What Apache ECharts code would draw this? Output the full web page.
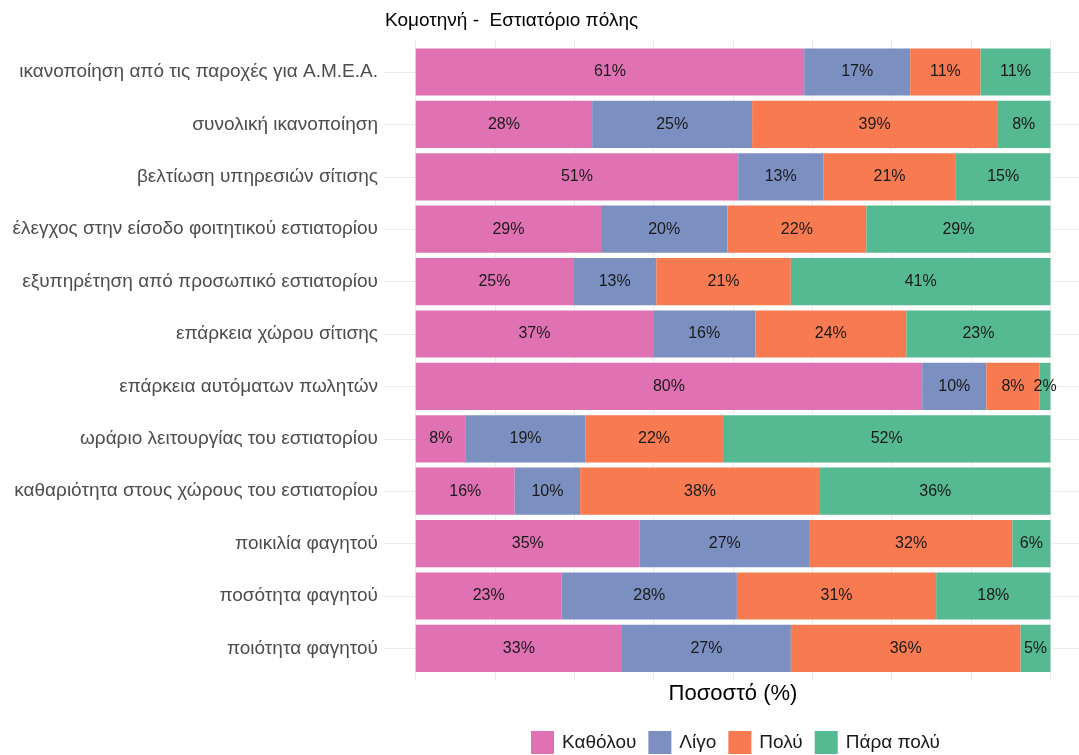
<!DOCTYPE html>
<html>
<head>
<meta charset="utf-8">
<script src="https://cdn.jsdelivr.net/npm/echarts@6/dist/echarts.min.js"></script>
<style>
  html, body { margin: 0; padding: 0; background: #fff; }
  #chart { width: 1079px; height: 755px; }
</style>
</head>
<body>
<div id="chart"></div>
<script>
// κατηγορίες, από πάνω προς τα κάτω
const categories = [
  'ικανοποίηση από τις παροχές για Α.Μ.Ε.Α.',
  'συνολική ικανοποίηση',
  'βελτίωση υπηρεσιών σίτισης',
  'έλεγχος στην είσοδο φοιτητικού εστιατορίου',
  'εξυπηρέτηση από προσωπικό εστιατορίου',
  'επάρκεια χώρου σίτισης',
  'επάρκεια αυτόματων πωλητών',
  'ωράριο λειτουργίας του εστιατορίου',
  'καθαριότητα στους χώρους του εστιατορίου',
  'ποικιλία φαγητού',
  'ποσότητα φαγητού',
  'ποιότητα φαγητού'
]

const seriesNames = ['Καθόλου', 'Λίγο', 'Πολύ', 'Πάρα πολύ']

// ποσοστά (%)
const katholou = [61.2, 27.8, 50.8, 29.2, 24.8, 37.4, 79.8, 7.9, 15.6, 35.3, 23.0, 32.5]
const ligo     = [16.7, 25.2, 13.4, 19.9, 13.1, 16.1, 10.1, 18.8, 10.3, 26.8, 27.6, 26.6]
const poly     = [11.1, 38.6, 20.9, 21.9, 21.2, 23.8, 8.4, 21.7, 37.8, 31.9, 31.4, 36.2]
const paraPoly = [11.0, 8.4, 14.9, 29.0, 40.9, 22.7, 1.7, 51.6, 36.3, 6.0, 18.0, 4.7]

const colors = ['#e072b4', '#7b8fc0', '#f87a50', '#55b991']
const gridColor = '#ebebeb'
const font = 'Liberation Sans'

var chart = echarts.init(document.getElementById('chart'))

var valueLists = [katholou, ligo, poly, paraPoly]
var barSeries = seriesNames.map(function (name, i) {
  return {
    name: name,
    type: 'bar',
    stack: 'total',
    xAxisIndex: 0,
    yAxisIndex: 0,
    barCategoryGap: '10%',
    itemStyle: { color: colors[i] },
    label: {
      show: true,
      position: 'inside',
      color: '#1a1a1a',
      fontSize: 16,
      fontFamily: font,
      formatter: function (p) { return Math.round(p.value) + '%' }
    },
    data: valueLists[i]
  }
})

var hiddenValueAxis = function (idx) {
  return {
    gridIndex: idx,
    type: 'value',
    min: 0,
    max: 100,
    show: false
  }
}

var option = {
  animation: false,
  color: colors,
  textStyle: { fontFamily: font },
  title: {
    text: 'Κομοτηνή -  Εστιατόριο πόλης',
    left: 380,
    top: 6,
    textStyle: { fontSize: 19, fontWeight: 'normal', color: '#000', fontFamily: font }
  },
  legend: {
    data: seriesNames,
    bottom: -4,
    left: 526,
    icon: 'rect',
    itemWidth: 23,
    itemHeight: 23,
    itemGap: 12,
    textStyle: { fontSize: 19, color: '#1a1a1a', fontFamily: font, padding: [0, 0, 0, 3] }
  },
  grid: [
    // ράβδοι (ο άξονας x ξεπερνά λίγο το δεξί άκρο, όπως στο πρωτότυπο)
    { left: 384, width: 695, top: 45.8, height: 628.8 },
    // κάθετες γραμμές πλέγματος
    { left: 415.7, width: 634.5, top: 40, height: 640 },
    // οριζόντιες γραμμές πλέγματος (κέντρα κατηγοριών)
    { left: 384, width: 695, top: 72, height: 576.4 }
  ],
  xAxis: [
    {
      gridIndex: 0,
      type: 'value',
      min: -5,
      max: 104.5,
      axisLine: { show: false },
      axisTick: { show: false },
      axisLabel: { show: false },
      splitLine: { show: false },
      name: 'Ποσοστό (%)',
      nameLocation: 'middle',
      nameGap: 8,
      nameTextStyle: { fontSize: 22, color: '#000', fontFamily: font, padding: [0, 0, 0, 3] }
    },
    {
      gridIndex: 1,
      type: 'value',
      min: 0,
      max: 100,
      interval: 12.5,
      axisLine: { show: false },
      axisTick: { show: false },
      axisLabel: { show: false },
      splitLine: { show: true, lineStyle: { color: gridColor, width: 1 } }
    },
    hiddenValueAxis(2)
  ],
  yAxis: [
    {
      gridIndex: 0,
      type: 'category',
      inverse: true,
      data: categories,
      axisLine: { show: false },
      axisTick: { show: false },
      splitLine: { show: false },
      axisLabel: { fontSize: 19, color: '#4d4d4d', margin: 6, interval: 0, fontFamily: font }
    },
    hiddenValueAxis(1),
    {
      gridIndex: 2,
      type: 'category',
      inverse: true,
      boundaryGap: false,
      data: categories,
      axisLine: { show: false },
      axisTick: { show: false },
      axisLabel: { show: false, interval: 0 },
      splitLine: { show: true, interval: 0, lineStyle: { color: gridColor, width: 1 } }
    }
  ],
  series: barSeries
}

option && chart.setOption(option)
</script>
</body>
</html>
